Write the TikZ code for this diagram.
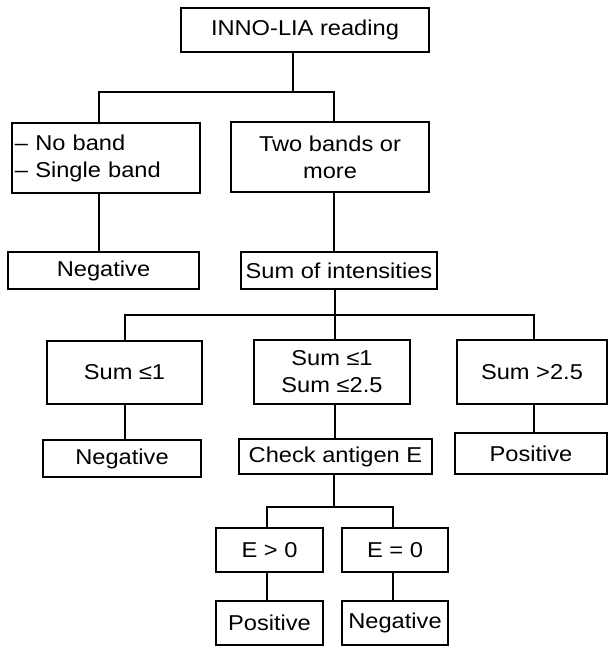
\documentclass[tikz,border=0pt]{standalone}
\usepackage{fontspec}
\setmainfont[FakeStretch=1.1]{Liberation Sans}
\begin{document}
\begin{tikzpicture}[x=1pt,y=-1pt,
  box/.style={draw,line width=1.5pt,inner sep=0pt,font=\fontsize{21.5}{27}\selectfont,align=center},
  conn/.style={line width=1.5pt}]
\useasboundingbox (0,0) rectangle (610,646);
% box helper: name, center x, center y, width, height, extra options
\newcommand{\bx}[6]{\node[box,minimum width=#4,minimum height=#5,#6] (#1) at (#2,#3)}
\bx{top}{305}{30}{248pt}{44pt}{} {INNO-LIA reading};
\bx{nb}{106}{158}{188pt}{70pt}{align=left,inner xsep=3pt,text width=182pt} {– No band\\– Single band};
\bx{tb}{330}{157}{198pt}{70pt}{} {Two bands or\\more};
\bx{neg1}{103.5}{270.5}{191pt}{37pt}{} {Negative};
\bx{soi}{339}{270.5}{196pt}{37pt}{} {Sum of intensities};
\bx{s1}{124.5}{372.5}{155pt}{63pt}{} {Sum ≤1};
\bx{s2}{332}{372}{156pt}{64pt}{} {Sum ≤1\\Sum ≤2.5};
\bx{s3}{532}{372}{150pt}{64pt}{} {Sum >2.5};
\bx{neg2}{122}{458.5}{158pt}{37pt}{} {Negative};
\bx{chk}{335.5}{456.5}{193pt}{35pt}{} {Check antigen E};
\bx{pos1}{531}{453.5}{152pt}{41pt}{} {Positive};
\bx{e1}{269.5}{550}{107pt}{44pt}{} {E > 0};
\bx{e2}{395}{550}{106pt}{44pt}{} {E = 0};
\bx{pos2}{269.5}{623}{107pt}{44pt}{} {Positive};
\bx{neg3}{395}{623}{106pt}{44pt}{} {Negative};
% junctions
\coordinate (j1) at (293,92);
\coordinate (j1l) at (99,92);
\coordinate (j1r) at (334,92);
\coordinate (j2) at (335,315);
\coordinate (j2l) at (125,315);
\coordinate (j2r) at (534,315);
\coordinate (j3) at (334,507);
\coordinate (j3l) at (267,507);
\coordinate (j3r) at (393,507);
% connectors
\draw[conn] (top.south -| j1) -- (j1);
\draw[conn] (nb.north -| j1l) -- (j1l) -- (j1r) -- (tb.north -| j1r);
\draw[conn] (nb.south -| j1l) -- (neg1.north -| j1l);
\draw[conn] (tb.south -| j1r) -- (soi.north -| j1r);
\draw[conn] (soi.south -| j2) -- (j2);
\draw[conn] (s1.north -| j2l) -- (j2l) -- (j2r) -- (s3.north -| j2r);
\draw[conn] (j2) -- (s2.north -| j2);
\draw[conn] (s1.south -| j2l) -- (neg2.north -| j2l);
\draw[conn] (s2.south -| j2) -- (chk.north -| j2);
\draw[conn] (s3.south -| j2r) -- (pos1.north -| j2r);
\draw[conn] (chk.south -| j3) -- (j3);
\draw[conn] (e1.north -| j3l) -- (j3l) -- (j3r) -- (e2.north -| j3r);
\draw[conn] (e1.south -| j3l) -- (pos2.north -| j3l);
\draw[conn] (e2.south -| j3r) -- (neg3.north -| j3r);
\end{tikzpicture}
\end{document}
